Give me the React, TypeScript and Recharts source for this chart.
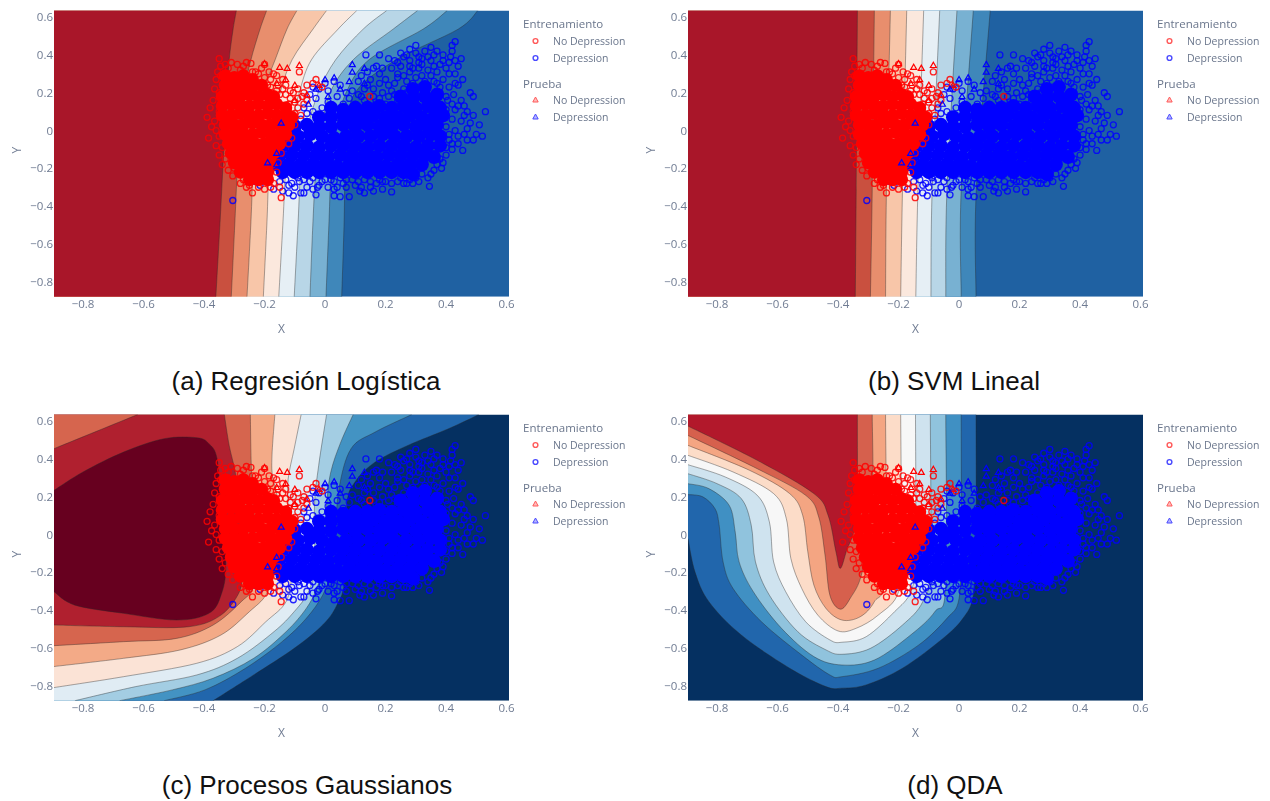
import React from 'react';
import { ScatterChart, Scatter, XAxis, YAxis } from 'recharts';

type Pt = number[];

const X_MIN = -0.896;
const X_MAX = 0.608;
const Y_MIN = -0.879;
const Y_MAX = 0.635;
// contour y values were read on a slightly tighter grid than the tick labels
const CONTOUR_Y = 1.012;

const xTicks = [-0.8, -0.6, -0.4, -0.2, 0, 0.2, 0.4, 0.6];
const yTicks = [-0.8, -0.6, -0.4, -0.2, 0, 0.2, 0.4, 0.6];

// dense middle of each cloud, drawn with bigger filled dots
const redCore: Pt[] = [
  [-.33,.29],[-.30,.28],[-.27,.29],[-.24,.27],
  [-.33,.24],[-.30,.23],[-.27,.24],[-.24,.23],[-.21,.24],
  [-.34,.18],[-.31,.19],[-.28,.18],[-.25,.19],[-.22,.18],[-.19,.19],[-.17,.18],
  [-.34,.13],[-.31,.14],[-.28,.13],[-.25,.13],[-.22,.14],[-.19,.13],[-.16,.14],[-.13,.12],
  [-.34,.08],[-.31,.08],[-.28,.09],[-.25,.08],[-.22,.08],[-.19,.09],[-.16,.08],[-.13,.08],[-.11,.07],
  [-.33,.03],[-.30,.03],[-.27,.03],[-.24,.04],[-.21,.03],[-.18,.03],[-.15,.03],[-.12,.03],
  [-.33,-.02],[-.30,-.02],[-.27,-.02],[-.24,-.02],[-.21,-.01],[-.18,-.02],[-.15,-.02],[-.13,-.02],
  [-.32,-.07],[-.29,-.07],[-.26,-.07],[-.23,-.07],[-.20,-.07],[-.17,-.07],[-.15,-.07],
  [-.31,-.12],[-.28,-.12],[-.25,-.12],[-.22,-.12],[-.19,-.12],[-.17,-.12],
  [-.30,-.17],[-.27,-.17],[-.24,-.17],[-.21,-.17],[-.18,-.17],
  [-.28,-.22],[-.25,-.22],[-.22,-.22],[-.19,-.22],[-.25,-.26],[-.22,-.26],[-.19,-.26],
];
const blueCore: Pt[] = [
  [.29,.22],[.33,.23],[.37,.19],[.25,.18],[.29,.17],[.33,.18],[.36,.14],
  [.02,.12],[.06,.11],[.10,.12],[.14,.12],[.18,.13],[.22,.12],[.26,.13],[.30,.12],[.34,.13],[.38,.12],
  [-.02,.07],[.02,.07],[.06,.08],[.08,.07],[.12,.07],[.16,.08],[.20,.07],[.24,.07],[.28,.08],[.32,.07],[.36,.07],[.39,.08],
  [-.10,.02],[-.06,.03],[-.02,.02],[.02,.02],[.06,.03],[.10,.02],[.14,.03],[.18,.02],[.22,.02],[.26,.03],[.30,.02],[.34,.02],[.37,.03],
  [-.13,-.03],[-.09,-.03],[-.05,-.02],[-.01,-.03],[.03,-.04],[.07,-.03],[.11,-.03],[.15,-.03],[.19,-.02],[.23,-.03],[.27,-.03],[.31,-.03],[.35,-.02],[.38,-.03],
  [-.14,-.08],[-.10,-.08],[-.06,-.08],[-.02,-.09],[.02,-.08],[.06,-.08],[.10,-.08],[.14,-.09],[.18,-.08],[.22,-.08],[.26,-.08],[.30,-.09],[.34,-.08],[.38,-.08],
  [-.15,-.13],[-.11,-.13],[-.07,-.13],[-.03,-.13],[.01,-.14],[.05,-.13],[.09,-.13],[.13,-.13],[.17,-.14],[.21,-.13],[.25,-.13],[.29,-.13],[.33,-.13],[.36,-.14],
  [-.16,-.18],[-.12,-.18],[-.08,-.18],[-.04,-.18],[0,-.18],[.04,-.19],[.08,-.18],[.12,-.18],[.16,-.18],[.20,-.19],[.24,-.18],[.28,-.18],[.32,-.18],
  [-.14,-.22],[-.10,-.22],[-.06,-.22],[-.02,-.22],[.02,-.22],[.06,-.22],[.10,-.22],[.14,-.22],[.18,-.22],[.22,-.22],[.26,-.22],[.29,-.23],
];

// rings around the dense part
const redTrain: Pt[] = [
  [-.39,.07],[-.38,.12],[-.375,.02],[-.385,-.04],[-.37,.16],[-.365,.22],[-.36,.27],[-.365,.05],[-.36,-.08],[-.355,.31],
  [-.35,-.13],[-.35,.38],[-.345,.34],[-.34,-.18],[-.33,.35],[-.32,-.21],[-.31,.36],[-.305,-.24],[-.29,.35],[-.28,-.28],
  [-.27,.34],[-.26,.36],[-.245,.355],[-.24,-.33],[-.26,-.3],[-.23,.31],[-.22,.3],[-.21,.33],[-.2,.28],[-.185,.31],
  [-.18,.27],[-.17,.3],[-.155,.24],[-.14,.22],[-.13,.19],[-.115,.17],[-.1,.15],[-.09,.12],[-.085,.31],[-.09,.22],
  [-.07,.2],[-.06,.24],[-.04,.25],[-.03,.27],[-.06,.16],[-.08,.08],[-.075,.18],[-.1,.03],[-.11,-.04],[-.12,-.07],
  [-.145,-.12],[-.155,-.17],[-.16,-.22],[-.17,-.28],[-.18,-.3],[-.2,-.31],[-.145,-.355],[-.15,-.3],[-.195,-.27],[-.22,-.3],
  [-.01,.23],[.148,.18],[-.12,.1],[-.105,.2],[-.16,.29],[-.2,.35],[-.25,-.29],[-.27,-.26],[-.3,-.2],[-.33,-.15],
  [-.35,-.03],[-.35,.1],[-.35,.2],[-.345,.29],[-.36,.0],[-.34,-.09],[-.32,.33],[-.28,.32],[-.24,.31],[-.19,.24],
  [-.15,.19],[-.13,.24],[-.115,.21],[-.16,.21],[-.12,.14],[-.09,.17],[-.07,.14],[-.1,.09],[-.14,.27],[-.18,.23],
];
const blueTrain: Pt[] = [
  [-.305,-.37],[-.235,.23],[-.23,-.27],[-.215,-.29],[-.19,-.27],[-.17,-.31],[-.15,-.27],[-.14,-.32],[-.12,-.29],[-.105,-.345],
  [-.1,-.3],[-.085,-.27],[-.08,-.33],[-.06,-.3],[-.05,-.27],[-.03,-.34],[-.025,-.3],[-.01,-.27],[.01,-.3],[.02,-.26],
  [.03,-.345],[.04,-.3],[.05,-.35],[.06,-.28],[.08,-.35],[.07,-.26],[.1,-.29],[.115,-.32],[.13,-.33],[.15,-.3],
  [.17,-.28],[.19,-.31],[.22,-.325],[.24,-.27],[.27,-.28],[.31,-.27],[.345,-.295],[.34,-.25],[.36,-.21],[.385,-.2],
  [.38,-.15],[.4,-.13],[.42,-.1],[.455,-.105],[.44,-.07],[.41,-.05],[.47,-.05],[.49,-.05],[.52,-.03],[.5,-.02],
  [.46,-.02],[.43,0],[.4,.02],[.51,.03],[.48,.04],[.45,.05],[.42,.06],[.53,.1],[.47,.1],[.44,.13],
  [.4,.11],[.38,.14],[.49,.18],[.48,.2],[.455,.27],[.44,.24],[.425,.19],[.405,.16],[.38,.2],[.36,.18],
  [.33,.17],[.3,.19],[.27,.17],[.24,.16],[.2,.14],[.16,.13],[.12,.11],[.09,.1],[.43,.47],[.42,.45],
  [.42,.42],[.415,.39],[.45,.38],[.44,.34],[.43,.3],[.4,.33],[.39,.37],[.37,.42],[.35,.44],[.33,.42],
  [.31,.39],[.3,.45],[.3,.41],[.28,.43],[.28,.37],[.26,.39],[.25,.34],[.25,.41],[.23,.37],[.22,.33],
  [.21,.38],[.18,.4],[.17,.34],[.135,.4],[.18,.3],[.15,.27],[.13,.22],[.12,.18],[.2,.27],[.23,.25],
  [.26,.29],[.29,.33],[.32,.35],[.35,.37],[.37,.31],[.39,.27],[.41,.23],[.35,.29],[.32,.29],[.29,.25],
  [.26,.22],[.22,.21],[.19,.2],[.16,.18],[.34,.23],[.37,.25],[.31,.23],[.4,.18],[.42,.14],[.45,.16],
  [.1,.14],[.08,.17],[.06,.14],[.04,.18],[.03,.12],[.01,.15],[-.01,.12],[-.03,.17],[-.04,.1],[-.06,.09],
  [-.02,.07],[.01,.08],[.04,.07],[.07,.06],[-.08,.06],[-.05,.19],[-.02,.22],[.01,.21],[.05,.24],[.07,.2],
  [.06,.02],[.02,.03],[.09,.05],[-.04,.23],[-.07,.12],[.0,.25],[.03,.26],[.11,.26],[.14,.31],[.16,.33],
  // upper part of the right cloud
  [.24,.3],[.27,.26],[.3,.28],[.33,.26],[.36,.26],[.38,.23],[.28,.31],[.31,.33],[.34,.32],[.36,.34],
  [.38,.35],[.41,.3],[.41,.36],[.34,.39],[.31,.36],[.28,.34],[.24,.28],[.21,.24],[.18,.25],[.16,.22],
  [.13,.16],[.15,.15],[.18,.17],[.21,.18],[.23,.19],[.27,.2],[.09,.21],[.11,.19],[.14,.24],[.12,.29],
  [.19,.33],[.24,.36],[.27,.4],[.32,.38],[.36,.4],[.39,.4],[.43,.37],[.43,.25],[.43,.11],[.46,.13],
  [.46,.08],[.49,.08],[.47,.01],[.44,-.03],[.42,-.07],[.4,-.09],[.41,-.02],[.39,-.17],[.37,-.18],[.35,-.23],
  // lower fringe
  [-.13,-.26],[-.11,-.28],[-.09,-.25],[-.07,-.26],[-.04,-.25],[-.02,-.29],[0,-.26],[.03,-.27],[.05,-.25],[.09,-.26],
  [.11,-.27],[.13,-.26],[.15,-.27],[.18,-.26],[.2,-.27],[.22,-.28],[.25,-.25],[.28,-.26],[.3,-.25],[.32,-.23],
  [.12,-.3],[.16,-.32],[.07,-.3],[.03,-.31],[-.04,-.31],[-.07,-.33],[-.12,-.33],[.19,-.27],[.26,-.28],[.29,-.28],
];
const redTest: Pt[] = [
  [-.2,.355],[-.15,.335],[-.125,.33],[-.085,.345],[-.13,.27],[-.1,.24],[-.06,.19],[-.16,.25],[-.1,.16],[-.13,.11],[-.02,.24],
];
const blueTest: Pt[] = [
  [.09,.35],[.13,.33],[.09,.31],[.03,.28],[0,.27],[.08,.26],[.05,.22],[-.03,.22],[.01,.18],[-.055,.14],[-.145,.04],[-.19,-.17],[-.16,-.12],[-.16,-.18],[0,.05],[.13,.25],
];

// logistic regression contours: x of each boundary at the same y levels
const logitY = [-.87, -.476, -.2, 0, .2, .37, .53, .63];
const logitBounds = [
  [.055, .063, .066, .075, .10, .235, .44, .505],
  [.003, .013, .02, .035, .07, .145, .324, .404],
  [-.05, -.04, -.03, -.012, .017, .093, .225, .306],
  [-.102, -.089, -.08, -.06, -.022, .035, .126, .204],
  [-.153, -.139, -.13, -.115, -.085, -.045, .043, .105],
  [-.204, -.192, -.185, -.17, -.148, -.109, -.04, .005],
  [-.258, -.245, -.238, -.228, -.205, -.165, -.126, -.093],
  [-.31, -.298, -.29, -.282, -.268, -.245, -.215, -.193],
  [-.361, -.347, -.338, -.331, -.324, -.317, -.304, -.293],
];
const svmY = [-.87, -.31, .63];
const svmBounds = [
  [.056, .057, .103],
  [.007, .007, .047],
  [-.044, -.04, -.007],
  [-.093, -.089, -.064],
  [-.143, -.136, -.117],
  [-.193, -.187, -.173],
  [-.243, -.24, -.227],
  [-.293, -.287, -.28],
  [-.343, -.34, -.336],
];
const linearFills = ['#3f87ba', '#78b1d2', '#b8d6e7', '#e6eff5', '#fbe8dd', '#f8c6a9', '#e88e6d', '#c9503f', '#a91629'];

const gpBounds: Pt[][] = [
  [[-.37,-.87],[-.236,-.734],[-.102,-.595],[-.008,-.473],[.039,-.369],[.066,-.23],[.072,.153],[.099,.275],[.166,.379],[.274,.466],[.408,.553],[.509,.63]],
  [[-.532,-.87],[-.397,-.812],[-.263,-.699],[-.142,-.56],[-.062,-.438],[-.008,-.317],[.019,-.195],[.032,-.021],[.046,.24],[.086,.449],[.166,.536],[.287,.63]],
  [[-.679,-.87],[-.505,-.812],[-.37,-.751],[-.236,-.647],[-.129,-.508],[-.062,-.386],[-.028,-.282],[-.008,-.16],[.005,.153],[.019,.327],[.052,.483],[.093,.63]],
  [[-.827,-.87],[-.626,-.795],[-.424,-.734],[-.29,-.647],[-.169,-.508],[-.102,-.403],[-.055,-.299],[-.035,-.16],[-.035,.153],[-.021,.362],[.005,.63]],
  [[-.896,-.8],[-.666,-.743],[-.424,-.673],[-.29,-.586],[-.196,-.456],[-.129,-.351],[-.11,-.2],[-.115,0],[-.122,.153],[-.122,.29],[-.102,.449],[-.079,.63]],
  [[-.896,-.69],[-.666,-.647],[-.478,-.603],[-.344,-.525],[-.25,-.403],[-.196,-.317],[-.169,-.195],[-.156,.153],[-.176,.344],[-.166,.63]],
  [[-.896,-.581],[-.666,-.56],[-.491,-.543],[-.37,-.473],[-.277,-.351],[-.236,-.264],[-.23,-.021],[-.243,.327],[-.247,.63]],
  [[-.333,.63],[-.317,.466],[-.297,.327],[-.283,.153],[-.277,-.021],[-.277,-.195],[-.283,-.299],[-.344,-.421],[-.451,-.482],[-.666,-.482],[-.896,-.473]],
  [[-.896,.449],[-.619,.63]],
  [[-.896,.231],[-.8,.327],[-.666,.431],[-.532,.501],[-.424,.506],[-.384,.475],[-.357,.397],[-.344,.153],[-.328,-.16],[-.344,-.317],[-.384,-.412],[-.491,-.447],[-.666,-.412],[-.827,-.369],[-.896,-.299]],
];
const gpFills = ['#2166ac', '#4393c3', '#a3cde3', '#e0ecf4', '#fbe3d6', '#f3aa87', '#d6654e', '#b0202f', '#d6654e', '#67001f'];

const qdaBounds: Pt[][] = [
  [[-.896,-.021],[-.873,-.195],[-.827,-.351],[-.72,-.525],[-.56,-.699],[-.44,-.795],[-.387,-.803],[-.307,-.786],[-.187,-.699],[-.053,-.543],[.013,-.438],[.047,-.317],[.056,-.021],[.056,.63]],
  [[-.896,.209],[-.847,.197],[-.807,.136],[-.793,.049],[-.78,-.143],[-.747,-.282],[-.653,-.456],[-.52,-.63],[-.427,-.734],[-.387,-.743],[-.267,-.699],[-.133,-.577],[-.04,-.438],[0,-.334],[.007,-.021],[.007,.63]],
  [[-.896,.266],[-.827,.24],[-.76,.153],[-.74,.014],[-.727,-.143],[-.68,-.299],[-.587,-.49],[-.48,-.638],[-.387,-.682],[-.28,-.656],[-.16,-.525],[-.08,-.403],[-.044,-.264],[-.044,.63]],
  [[-.896,.318],[-.8,.266],[-.72,.188],[-.687,.049],[-.673,-.143],[-.627,-.317],[-.533,-.508],[-.44,-.603],[-.387,-.626],[-.293,-.595],[-.187,-.473],[-.12,-.351],[-.095,-.16],[-.095,.63]],
  [[-.896,.365],[-.773,.301],[-.667,.205],[-.627,.066],[-.613,-.143],[-.573,-.299],[-.507,-.456],[-.427,-.551],[-.387,-.563],[-.307,-.534],[-.213,-.403],[-.16,-.299],[-.144,-.108],[-.144,.63]],
  [[-.896,.414],[-.747,.327],[-.613,.214],[-.571,.083],[-.556,-.125],[-.52,-.282],[-.467,-.421],[-.4,-.504],[-.34,-.49],[-.267,-.421],[-.2,-.299],[-.191,-.021],[-.193,.63]],
  [[-.896,.466],[-.693,.336],[-.56,.214],[-.517,.101],[-.5,-.09],[-.48,-.264],[-.44,-.386],[-.387,-.447],[-.327,-.43],[-.28,-.351],[-.243,-.195],[-.243,.63]],
  [[-.896,.518],[-.667,.344],[-.507,.205],[-.464,.092],[-.443,-.108],[-.427,-.317],[-.393,-.39],[-.36,-.334],[-.32,-.195],[-.287,.153],[-.287,.63]],
  [[-.896,.567],[-.667,.388],[-.48,.214],[-.433,.101],[-.407,-.09],[-.393,-.177],[-.373,-.09],[-.34,.101],[-.336,.63]],
];
const qdaFills = ['#2166ac', '#4090c3', '#90c3dd', '#cfe3ef', '#f7f7f7', '#fcdcc8', '#f4a582', '#d6604d', '#b2182b'];

const toRows = (pts: Pt[]) => pts.map(p => ({ x: p[0], y: p[1] }));
const contourRows = (pts: Pt[]) =>
  pts.map(p => ({ x: p[0], y: Math.max(Y_MIN, Math.min(Y_MAX, p[1] * CONTOUR_Y)) }));

const smoothPath = (pts: { x: number; y: number }[]) => {
  let d = `M${pts[0].x},${pts[0].y}`;
  for (let i = 0; i < pts.length - 1; i++) {
    const a = pts[Math.max(i - 1, 0)];
    const b = pts[i];
    const c = pts[i + 1];
    const e = pts[Math.min(i + 2, pts.length - 1)];
    d += `C${b.x + (c.x - a.x) / 6},${b.y + (c.y - a.y) / 6} ${c.x - (e.x - b.x) / 6},${c.y - (e.y - b.y) / 6} ${c.x},${c.y}`;
  }
  return d;
};

// one filled contour region: the boundary is curved, the corners close it along the plot edge
const renderRegion = (bound: Pt[], corners: Pt[], fill: string, key: string) => (
  <Scatter
    key={key}
    data={[...contourRows(bound), ...toRows(corners)]}
    isAnimationActive={false}
    shape={() => <g />}
    line={(p: any) => {
      const curve = bound.length ? smoothPath(p.points.slice(0, bound.length)) : '';
      const rest = p.points.slice(bound.length).map((q: any, i: number) => `${!curve && i === 0 ? 'M' : 'L'}${q.x},${q.y}`).join('');
      return (
        <g>
          <path d={`${curve}${rest}Z`} fill={fill} stroke="none" />
          {curve && <path d={curve} fill="none" stroke="#2b2b2b" strokeOpacity={0.5} strokeWidth={0.8} />}
        </g>
      );
    }}
  />
);

const ring = (color: string) => (p: any) => (
  <circle cx={p.cx} cy={p.cy} r={3} fill="none" stroke={color} strokeOpacity={0.85} strokeWidth={1.3} />
);
const dot = (color: string, r: number) => (p: any) => <circle cx={p.cx} cy={p.cy} r={r} fill={color} />;
const tri = (color: string) => (p: any) => (
  <path d={`M${p.cx},${p.cy - 3}L${p.cx + 3},${p.cy + 2.2}L${p.cx - 3},${p.cy + 2.2}Z`} fill="none" stroke={color} strokeWidth={1.2} />
);

const TL = [X_MIN, Y_MAX];
const BL = [X_MIN, Y_MIN];
const TR = [X_MAX, Y_MAX];
const BR = [X_MAX, Y_MIN];
const PLOT_CORNERS = [TL, TR, BR, BL];
const fmt = (v: number) => String(v).replace('-', '\u2212');
const tickStyle = { fontFamily: 'Open Sans', fontSize: 11.5, fill: '#6f7b92' };

const LegendHead = ({ y, text }: { y: number; text: string }) => (
  <div style={{ position: 'absolute', left: 0, top: y, fontSize: 11.5, lineHeight: '16px', whiteSpace: 'nowrap' }}>{text}</div>
);

const LegendRow = ({ y, text, color, circle }: { y: number; text: string; color: string; circle?: boolean }) => (
  <div style={{ position: 'absolute', left: 0, top: y, height: 16, width: 117 }}>
    <svg width={24} height={16} style={{ position: 'absolute', left: 0, top: 0 }}>
      {circle ? (
        <circle cx={12.5} cy={8} r={2.4} fill="none" stroke={color} strokeWidth={1.4} />
      ) : (
        <path d="M12.5,5L15.2,10L9.8,10Z" fill={color} fillOpacity={0.4} stroke={color} strokeWidth={1} />
      )}
    </svg>
    <div style={{ position: 'absolute', left: 30, top: 0, fontSize: 10.5, lineHeight: '16px', whiteSpace: 'nowrap' }}>{text}</div>
  </div>
);

const Panel = ({ left, top, base, regions }: { left: number; top: number; base: string; regions: React.ReactNode[] }) => (
  <div style={{ position: 'absolute', left, top, width: 640, height: 400, filter: 'blur(0.5px)' }}>
    <ScatterChart width={600} height={400} margin={{ top: 10.5, right: 91, bottom: 61.3, left: 14 }}>
      <XAxis
        type="number"
        dataKey="x"
        domain={[X_MIN, X_MAX]}
        allowDataOverflow
        ticks={xTicks}
        interval={0}
        tickFormatter={fmt}
        axisLine={false}
        tickLine={false}
        tickSize={0}
        tickMargin={3}
        height={42}
        tick={tickStyle}
        label={{ value: 'X', position: 'insideBottom', offset: 6, style: { fontFamily: 'Open Sans', fontSize: 12, fill: '#6f7b92' } }}
      />
      <YAxis
        type="number"
        dataKey="y"
        domain={[Y_MIN, Y_MAX]}
        allowDataOverflow
        ticks={yTicks}
        interval={0}
        tickFormatter={fmt}
        axisLine={false}
        tickLine={false}
        tickSize={0}
        tickMargin={1}
        width={40}
        tick={tickStyle}
        label={{ value: 'Y', angle: -90, position: 'insideLeft', offset: 3, style: { fontFamily: 'Open Sans', fontSize: 12, fill: '#6f7b92' } }}
      />
      {renderRegion([], PLOT_CORNERS, base, 'base')}
      {regions}
      <Scatter data={toRows(blueTrain)} shape={ring('#0000ff')} isAnimationActive={false} />
      <Scatter data={toRows(blueCore)} shape={dot('#0000ff', 7)} isAnimationActive={false} />
      <Scatter data={toRows(redTrain)} shape={ring('#ff0000')} isAnimationActive={false} />
      <Scatter data={toRows(redCore)} shape={dot('#ff0000', 6.5)} isAnimationActive={false} />
      <Scatter data={toRows(redTest)} shape={tri('#ff0000')} isAnimationActive={false} />
      <Scatter data={toRows(blueTest)} shape={tri('#0000ff')} isAnimationActive={false} />
    </ScatterChart>
    <div style={{ position: 'absolute', left: 523, top: 12, fontFamily: 'Open Sans', color: '#6a768c', width: 117 }}>
      <LegendHead y={4} text="Entrenamiento" />
      <LegendRow y={21} text="No Depression" color="#ff5a5a" circle />
      <LegendRow y={38} text="Depression" color="#4a4aff" circle />
      <LegendHead y={64} text="Prueba" />
      <LegendRow y={80} text="No Depression" color="#ff5a5a" />
      <LegendRow y={97} text="Depression" color="#4a4aff" />
    </div>
  </div>
);

const Caption = ({ cx, y, text }: { cx: number; y: number; text: string }) => (
  <div style={{ position: 'absolute', left: cx - 200, top: y - 18, width: 400, textAlign: 'center', fontFamily: 'Liberation Sans', fontSize: 26, lineHeight: '36px', color: '#111' }}>
    {text}
  </div>
);

const linearRegions = (ys: number[], bounds: number[][]) =>
  bounds.map((xs, i) => renderRegion(xs.map((x, j) => [x, ys[j]]), [TL, BL], linearFills[i], `b${i}`));

const gpRegions = gpBounds.map((b, i) => renderRegion(b, i === 9 ? [] : [TL].concat(i < 4 ? [BL] : []), gpFills[i], `g${i}`));
const qdaRegions = qdaBounds.map((b, i) => renderRegion(b, [TL], qdaFills[i], `q${i}`));

export default function App() {
  return (
    <div style={{ position: 'absolute', left: 0, top: 0, width: 1270, height: 801, background: '#fff', overflow: 'hidden' }}>
      <Panel left={0} top={0} base="#1f61a2" regions={linearRegions(logitY, logitBounds)} />
      <Panel left={634} top={0} base="#1f61a2" regions={linearRegions(svmY, svmBounds)} />
      <Panel left={0} top={404} base="#053061" regions={gpRegions} />
      <Panel left={634} top={404} base="#053061" regions={qdaRegions} />
      <Caption cx={306} y={381} text="(a) Regresión Logística" />
      <Caption cx={954} y={381} text="(b) SVM Lineal" />
      <Caption cx={307} y={785} text="(c) Procesos Gaussianos" />
      <Caption cx={955} y={785} text="(d) QDA" />
    </div>
  );
}
